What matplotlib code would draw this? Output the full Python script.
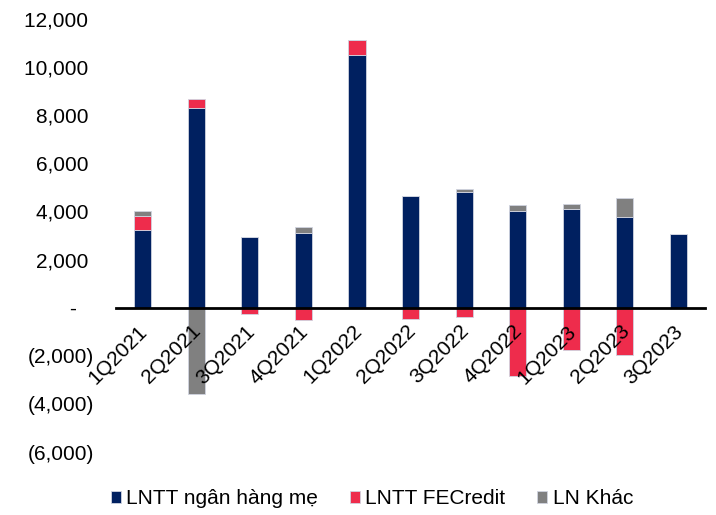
import matplotlib.pyplot as plt
import matplotlib.transforms as mtransforms
import numpy as np

plt.rcParams['font.family'] = ['Liberation Sans', 'DejaVu Sans']

quarters = ["1Q2021", "2Q2021", "3Q2021", "4Q2021", "1Q2022", "2Q2022",
            "3Q2022", "4Q2022", "1Q2023", "2Q2023", "3Q2023"]
bank = [3210, 8310, 2930, 3120, 10500, 4660, 4790, 4000, 4090, 3760, 3080]
fecredit = [620, 360, -250, -500, 630, -460, -390, -2850, -1770, -1950, 0]
other = [180, -3600, 0, 220, 0, 0, 140, 265, 235, 800, 0]

yticks = [-6000, -4000, -2000, 0, 2000, 4000, 6000, 8000, 10000, 12000]

navy = "#002060"
red = "#EE2C4C"
grey = "#808080"

bank = np.array(bank)
fecredit = np.array(fecredit)
other = np.array(other)

# stack positives up and negatives down
pos_base = np.zeros(len(quarters))
neg_base = np.zeros(len(quarters))

fig = plt.figure(figsize=(7.16, 5.15), dpi=100)
ax = fig.add_axes([0.162, 0.1223, 0.823, 0.8408])
x = np.arange(len(quarters))
w = 0.32

for vals, color, label in [(bank, navy, "LNTT ngân hàng mẹ"),
                           (fecredit, red, "LNTT FECredit"),
                           (other, grey, "LN Khác")]:
    bottoms = np.where(vals >= 0, pos_base, neg_base)
    ax.bar(x, vals, w, bottom=bottoms, color=color, edgecolor="#d0d4e0",
           linewidth=0.6, label=label, zorder=1)
    pos_base = pos_base + np.where(vals > 0, vals, 0)
    neg_base = neg_base + np.where(vals < 0, vals, 0)

ax.set_xlim(-0.5, len(quarters) - 0.5)
ax.set_ylim(-6000, 12000)

def fmt(v):
    if v == 0:
        return "-   "
    if v < 0:
        return "({:,})".format(-v)
    return "{:,} ".format(v)

ax.set_yticks(yticks)
ax.set_yticklabels([fmt(v) for v in yticks], fontsize=15)
ax.tick_params(axis="y", length=0, pad=16)

# x axis line sits at zero
for s in ax.spines.values():
    s.set_visible(False)
ax.spines["bottom"].set_visible(True)
ax.spines["bottom"].set_position(("data", 0))
ax.spines["bottom"].set_linewidth(2)
ax.spines["bottom"].set_zorder(3)

ax.set_xticks(x)
ax.set_xticklabels(quarters, rotation=45, ha="right", rotation_mode="anchor",
                   fontsize=15)
ax.tick_params(axis="x", length=0, pad=10)
ax.xaxis.set_zorder(4)
shift = mtransforms.ScaledTranslation(-5 / 100, 0, fig.dpi_scale_trans)
for lbl in ax.get_xticklabels():
    lbl.set_transform(lbl.get_transform() + shift)

ax.legend(loc="center", bbox_to_anchor=(0.434, -0.108), ncol=3,
          frameon=False, fontsize=15, handlelength=0.5, handleheight=0.5,
          handletextpad=0.26, columnspacing=1.5)

fig.savefig("out.png", dpi=100)
